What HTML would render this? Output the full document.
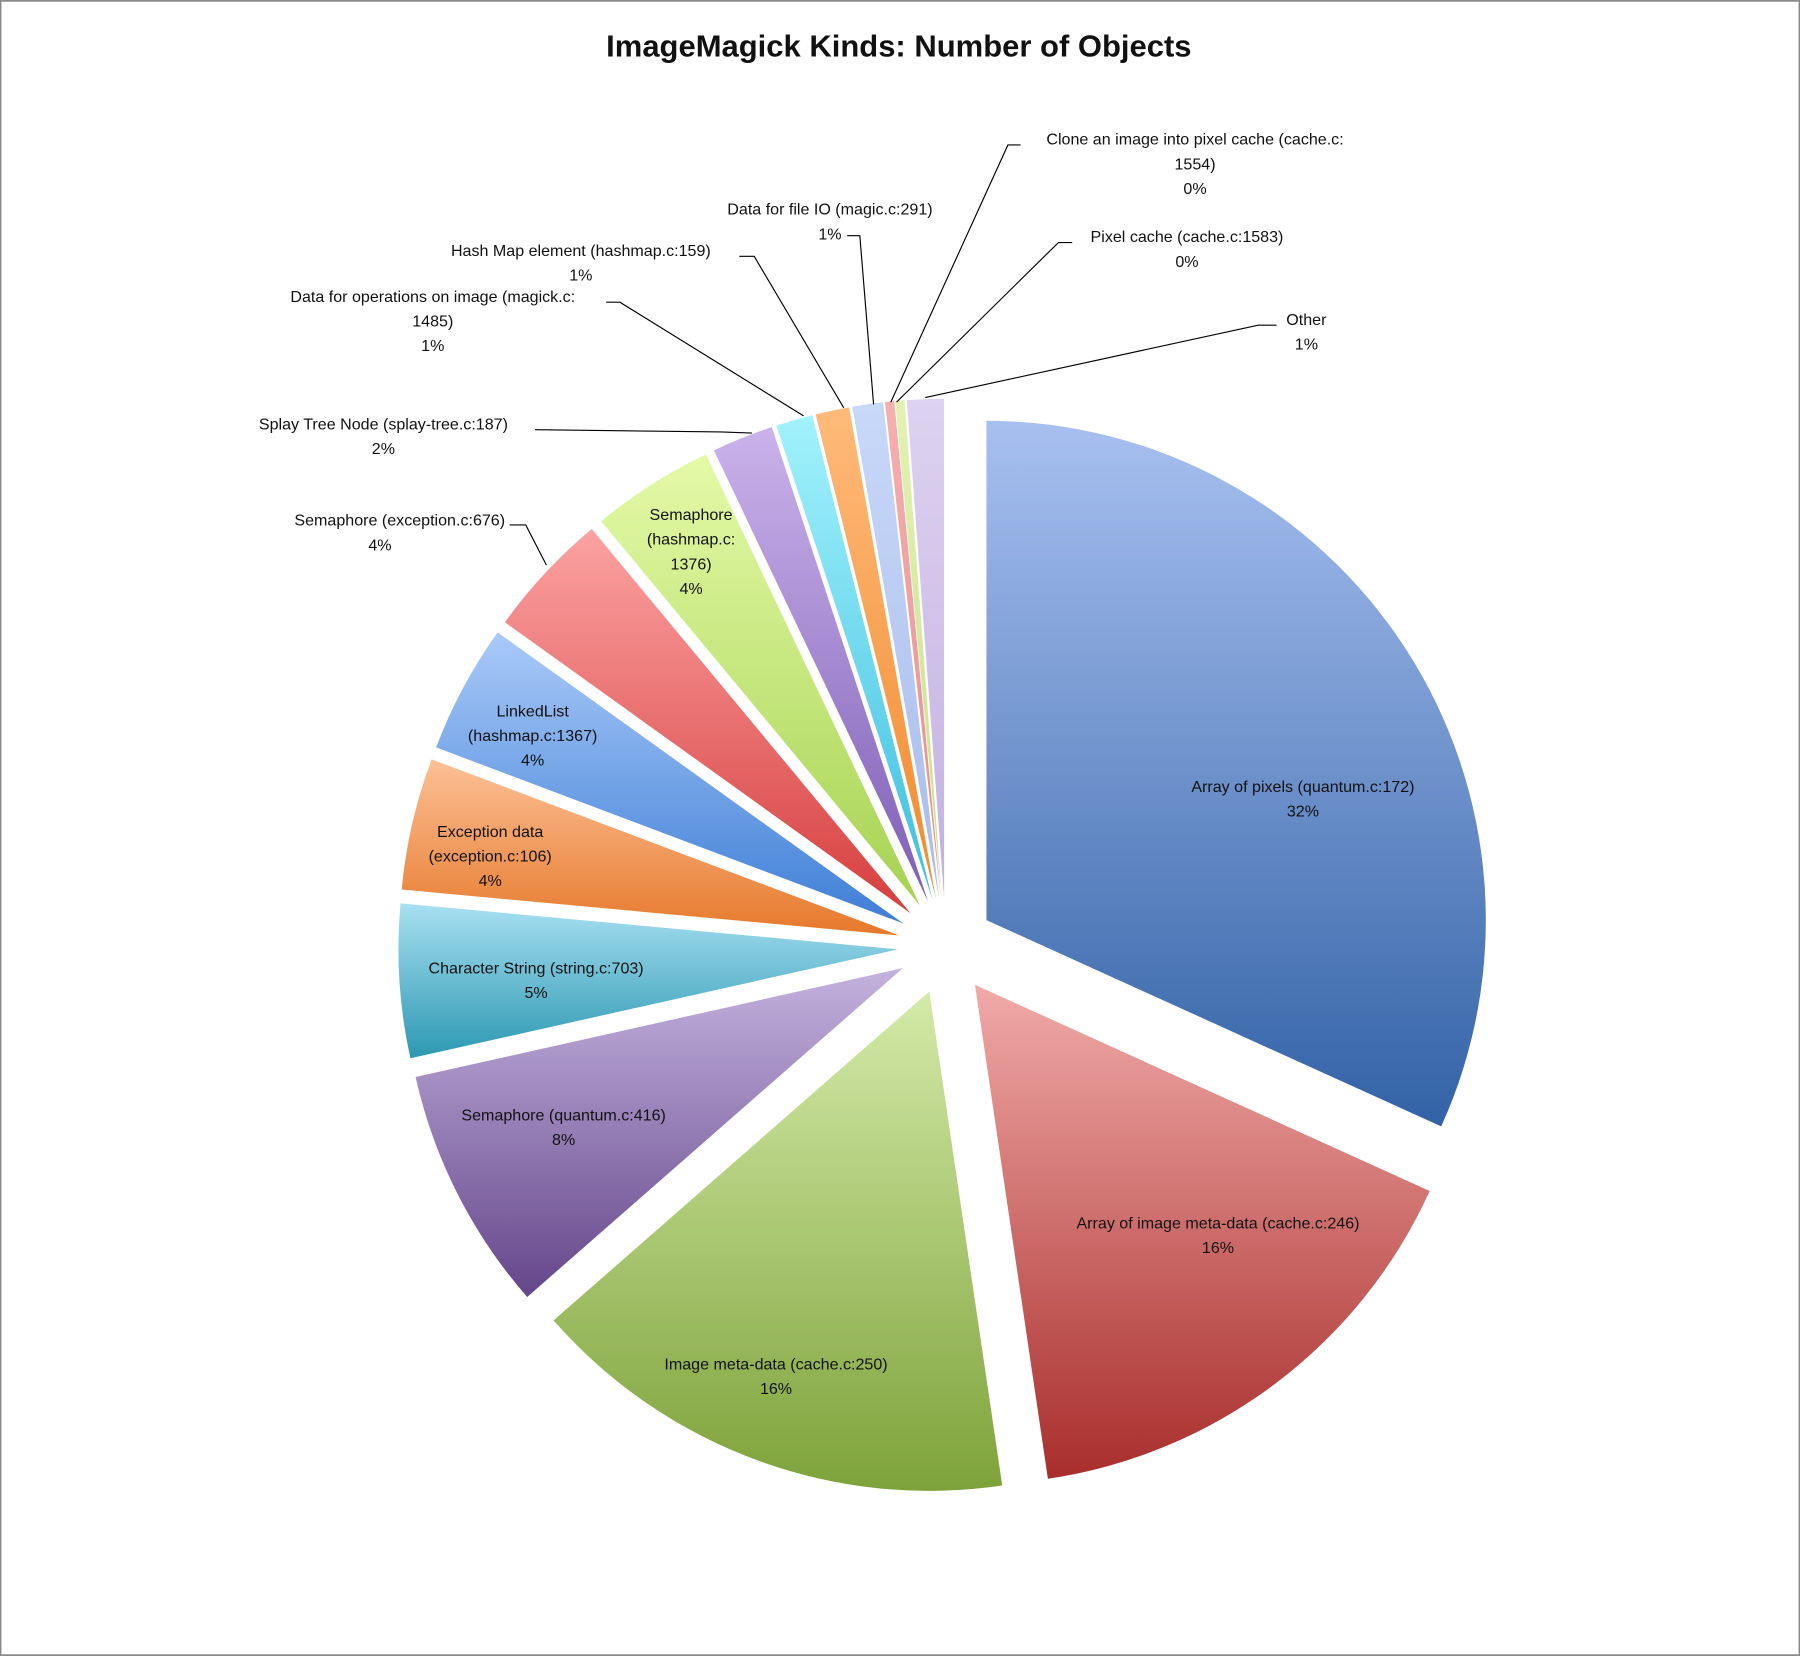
<!DOCTYPE html>
<html><head><meta charset="utf-8"><style>
html,body{margin:0;padding:0;background:#fff}
svg{display:block}
text{font-family:"Liberation Sans",sans-serif;font-size:14px;fill:#111}
</style></head><body>
<svg id="chart" width="1800" height="1656" viewBox="0 0 1568 1442" xmlns="http://www.w3.org/2000/svg">
<rect x="0.5" y="0.5" width="1567" height="1441" fill="#fff" stroke="#888" stroke-width="1.5"/>
<text x="783" y="42" text-anchor="middle" dominant-baseline="middle" style="font-size:27px;font-weight:bold">ImageMagick Kinds: Number of Objects</text>
<defs id="defs"></defs>
<g id="slices"></g>
<g id="leaders" fill="none" stroke="#000" stroke-width="1"></g>
<g id="labels"></g>
</svg>
<script>
const categories = ["Array of pixels (quantum.c:172)","Array of image meta-data (cache.c:246)","Image meta-data (cache.c:250)","Semaphore (quantum.c:416)","Character String (string.c:703)","Exception data (exception.c:106)","LinkedList (hashmap.c:1367)","Semaphore (exception.c:676)","Semaphore (hashmap.c:1376)","Splay Tree Node (splay-tree.c:187)","Data for operations on image (magick.c:1485)","Hash Map element (hashmap.c:159)","Data for file IO (magic.c:291)","Clone an image into pixel cache (cache.c:1554)","Pixel cache (cache.c:1583)","Other"];
const values = [32, 16, 16, 8, 5, 4.3, 4.2, 4.1, 4.0, 2, 1.2, 1.1, 1.0, 0.3, 0.3, 1.2];
const colorsTop = ["#a8c0f0","#f0aaa8","#d4eaa8","#c4b2de","#a8e0f2","#fcc096","#aacaf8","#fca2a2","#e4faa8","#cab2ea","#a2f2fc","#ffba7a","#c8d8f8","#f4b0b0","#e2f2b2","#ddd2f0"];
const colorsBot = ["#3262a6","#a82e2c","#7ea23a","#64468a","#2c98b2","#e6782a","#3e7ed6","#d63e3e","#a6d252","#7e5eb6","#3ebedf","#f08a2e","#a8bcec","#e88a8a","#c8e08a","#c2b0e0"];
const labelLines = [
 [["Array of pixels (quantum.c:172)"],1135,686],
 [["Array of image meta-data (cache.c:246)"],1061,1066],
 [["Image meta-data (cache.c:250)"],676,1189],
 [["Semaphore (quantum.c:416)"],491,972],
 [["Character String (string.c:703)"],467,844],
 [["Exception data","(exception.c:106)"],427,725],
 [["LinkedList","(hashmap.c:1367)"],464,620],
 [["Semaphore (exception.c:676)"],331,454],
 [["Semaphore","(hashmap.c:","1376)"],602,449],
 [["Splay Tree Node (splay-tree.c:187)"],334,370],
 [["Data for operations on image (magick.c:","1485)"],377,259],
 [["Hash Map element (hashmap.c:159)"],506,219],
 [["Data for file IO (magic.c:291)"],723,183],
 [["Clone an image into pixel cache (cache.c:","1554)"],1041,122],
 [["Pixel cache (cache.c:1583)"],1034,207],
 [["Other"],1138,279]
];
const leaderPts = {
 7:[[444,457],[458,457],[476,492]],
 9:[[466,374],[628,376],[655,377]],
 10:[[528,263],[540,263],[700,362]],
 11:[[644,223],[657,223],[735,355]],
 12:[[738,205],[749,205],[761,352]],
 13:[[889,126],[878,126],[776,350]],
 14:[[934,211],[922,211],[781,350]],
 15:[[1112,283],[1096,283],[806,346]]
};
const NS="http://www.w3.org/2000/svg";
const cx=824, cy=824, R=435, D=42;
const total = values.reduce((a,b)=>a+b,0);
function pt(a,r,ox,oy){return [ox+r*Math.sin(a), oy-r*Math.cos(a)];}
const defs=document.getElementById('defs'), gS=document.getElementById('slices'), gL=document.getElementById('labels'), gLd=document.getElementById('leaders');
let acc=0;
values.forEach((v,i)=>{
  const a0=acc/total*2*Math.PI; acc+=v; const a1=acc/total*2*Math.PI;
  const am=(a0+a1)/2;
  const ox=cx+D*Math.sin(am), oy=cy-D*Math.cos(am);
  const gr=document.createElementNS(NS,'linearGradient');
  gr.setAttribute('id','g'+i); gr.setAttribute('x1','0');gr.setAttribute('y1','0');gr.setAttribute('x2','0');gr.setAttribute('y2','1');
  gr.innerHTML=`<stop offset="0" stop-color="${colorsTop[i]}"/><stop offset="1" stop-color="${colorsBot[i]}"/>`;
  defs.appendChild(gr);
  const p0=pt(a0,R,ox,oy), p1=pt(a1,R,ox,oy);
  const large=(a1-a0)>Math.PI?1:0;
  const path=document.createElementNS(NS,'path');
  path.setAttribute('d',`M${ox},${oy} L${p0[0]},${p0[1]} A${R},${R} 0 ${large} 1 ${p1[0]},${p1[1]} Z`);
  path.setAttribute('fill',`url(#g${i})`);
  
  
  gS.appendChild(path);
});
labelLines.forEach((L,i)=>{
  const lines=L[0].concat([Math.round(values[i]/total*100)+'%']);
  const t=document.createElementNS(NS,'text');
  t.setAttribute('text-anchor','middle');
  
  
  let x=L[1];
  lines.forEach((s,k)=>{
    const ts=document.createElementNS(NS,'tspan');
    let tx=x;
    if(i===7 && k===0){ts.setAttribute('text-anchor','end'); tx=440;}
    ts.setAttribute('x',tx); ts.setAttribute('y',L[2]+k*21.5);
    ts.setAttribute('dominant-baseline','middle');
    ts.textContent=s; t.appendChild(ts);
  });
  gL.appendChild(t);
});
Object.keys(leaderPts).forEach(k=>{
  const pl=document.createElementNS(NS,'polyline');
  pl.setAttribute('points',leaderPts[k].map(p=>p.join(',')).join(' '));
  
  
  gLd.appendChild(pl);
});
</script>
</body></html>
